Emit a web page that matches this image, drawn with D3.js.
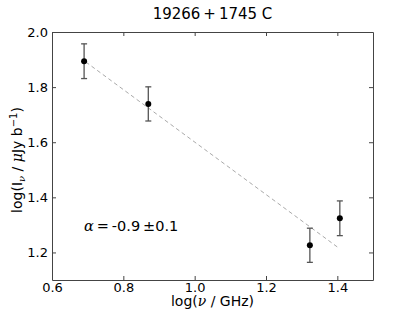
<!DOCTYPE html>
<html>
<head>
<meta charset="utf-8">
<script src="https://cdn.jsdelivr.net/npm/d3@7"></script>
<style>
  body { margin: 0; background: #fff; }
  text { font-family: "DejaVu Sans", sans-serif; fill: #000; }
</style>
</head>
<body>
<svg id="chart" width="415" height="312"></svg>
<script>
// Measured spectrum points
const logFreq = [0.690, 0.870, 1.323, 1.407];
const logFlux = [1.894, 1.739, 1.226, 1.324];
const fluxErr = [0.063, 0.062, 0.062, 0.063];

// Power-law fit, end points of the dashed line
const fitX = [0.695, 1.403];
const fitY = [1.891, 1.217];

const xTicks = [0.6, 0.8, 1.0, 1.2, 1.4];
const yTicks = [1.2, 1.4, 1.6, 1.8, 2.0];

const margin = { top: 32, right: 42, bottom: 32, left: 52 };
const width = 415 - margin.left - margin.right;
const height = 312 - margin.top - margin.bottom;

const svg = d3.select("#chart");
const g = svg.append("g")
    .attr("transform", `translate(${margin.left},${margin.top})`);

const x = d3.scaleLinear().domain([0.6, 1.5]).range([0, width]);
const y = d3.scaleLinear().domain([1.1, 2.0]).range([height, 0]);

// Axes with inward ticks on all four sides
const fmt = d3.format(".1f");
g.append("g").attr("transform", `translate(0,${height})`)
    .call(d3.axisBottom(x).tickValues(xTicks).tickFormat(fmt).tickSizeInner(-4).tickSizeOuter(0).tickPadding(3));
g.append("g")
    .call(d3.axisLeft(y).tickValues(yTicks).tickFormat(fmt).tickSizeInner(-4).tickSizeOuter(0).tickPadding(4));
g.append("g")
    .call(d3.axisTop(x).tickValues(xTicks).tickFormat("").tickSizeInner(-4).tickSizeOuter(0));
g.append("g").attr("transform", `translate(${width},0)`)
    .call(d3.axisRight(y).tickValues(yTicks).tickFormat("").tickSizeInner(-4).tickSizeOuter(0));

g.selectAll(".domain").attr("stroke", "#444");
g.selectAll(".tick line").attr("stroke", "#444");
g.selectAll(".tick text").style("font-size", "13px").attr("fill", "#000");

// Fit line
g.append("line")
    .attr("x1", x(fitX[0])).attr("y1", y(fitY[0]))
    .attr("x2", x(fitX[1])).attr("y2", y(fitY[1]))
    .attr("stroke", "#aaa")
    .attr("stroke-width", 1)
    .attr("stroke-dasharray", "4,3");

// Error bars
const pts = logFreq.map((d, i) => ({ x: d, y: logFlux[i], e: fluxErr[i] }));
const eb = g.selectAll(".err").data(pts).join("g").attr("class", "err")
    .attr("stroke", "#555").attr("stroke-width", 1.3);
eb.append("line")
    .attr("x1", d => x(d.x)).attr("x2", d => x(d.x))
    .attr("y1", d => y(d.y + d.e)).attr("y2", d => y(d.y - d.e));
eb.append("line")
    .attr("x1", d => x(d.x) - 3).attr("x2", d => x(d.x) + 3)
    .attr("y1", d => y(d.y + d.e)).attr("y2", d => y(d.y + d.e));
eb.append("line")
    .attr("x1", d => x(d.x) - 3).attr("x2", d => x(d.x) + 3)
    .attr("y1", d => y(d.y - d.e)).attr("y2", d => y(d.y - d.e));

g.selectAll(".pt").data(pts).join("circle")
    .attr("class", "pt")
    .attr("cx", d => x(d.x)).attr("cy", d => y(d.y))
    .attr("r", 3).attr("fill", "#000");

// Title
svg.append("text")
    .attr("x", margin.left + width / 2).attr("y", 18.5)
    .attr("text-anchor", "middle").style("font-size", "15px")
    .text("19266\u2009+\u20091745 C");

// Spectral index annotation
g.append("text")
    .attr("x", x(0.69)).attr("y", y(1.28) + 1)
    .style("font-size", "14.5px")
    .html('<tspan font-style="italic" font-family="DejaVu Serif">α</tspan>\u2009=\u2009-0.9\u2009±0.1');

// Axis labels
svg.append("text")
    .attr("x", margin.left + width / 2).attr("y", 306)
    .attr("text-anchor", "middle").style("font-size", "14px")
    .html('log(<tspan font-style="italic" font-family="DejaVu Serif">ν</tspan> / GHz)');

svg.append("text")
    .attr("transform", `translate(22,${margin.top + height / 2 + 4}) rotate(-90)`)
    .attr("text-anchor", "middle").style("font-size", "14px")
    .html('log(I<tspan font-style="italic" font-family="DejaVu Serif" font-size="10px" dy="3">ν</tspan><tspan dy="-3"> / </tspan><tspan font-style="italic" font-family="DejaVu Serif">μ</tspan>Jy b<tspan font-size="10px" dy="-5">−1</tspan><tspan dy="5">)</tspan>');
</script>
</body>
</html>
